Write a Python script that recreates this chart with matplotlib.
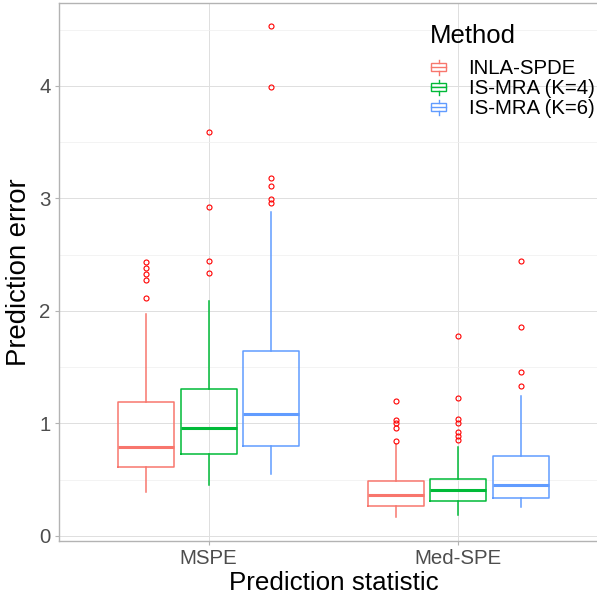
import matplotlib
matplotlib.use("Agg")
import matplotlib.pyplot as plt
from matplotlib.legend_handler import HandlerBase
from matplotlib.patches import Rectangle
from matplotlib.lines import Line2D
import numpy as np

plt.rcParams['font.family'] = ['Liberation Sans', 'DejaVu Sans']

# boxplot summaries
stats_names = ['MSPE', 'Med-SPE']
methods = ['INLA-SPDE', 'IS-MRA (K=4)', 'IS-MRA (K=6)']
colors = ['#F8766D', '#00BA38', '#619CFF']

# [statistic][method]
whislo = [[0.39, 0.45, 0.55], [0.17, 0.19, 0.26]]
q1 = [[0.61, 0.73, 0.80], [0.27, 0.31, 0.34]]
med = [[0.79, 0.96, 1.08], [0.36, 0.41, 0.45]]
q3 = [[1.19, 1.31, 1.64], [0.49, 0.51, 0.71]]
whishi = [[1.97, 2.09, 2.88], [0.82, 0.79, 1.24]]
fliers = [
    [[2.43, 2.38, 2.33, 2.27, 2.11],
     [3.59, 2.92, 2.44, 2.34],
     [4.53, 3.99, 3.18, 3.11, 2.99, 2.96]],
    [[1.20, 1.03, 1.00, 0.96, 0.84],
     [1.78, 1.23, 1.04, 1.00, 0.92, 0.89, 0.85],
     [2.44, 1.86, 1.46, 1.33]],
]


class BoxKey(HandlerBase):
    # small boxplot glyph like ggplot's legend key
    def create_artists(self, legend, orig_handle, xdescent, ydescent,
                       width, height, fontsize, trans):
        c = orig_handle.get_color()
        cx = width / 2 - xdescent
        cy = height / 2 - ydescent
        bw, bh = width * 0.9, height * 0.55
        box = Rectangle((cx - bw / 2, cy - bh / 2), bw, bh, fill=False,
                        edgecolor=c, lw=1.0, transform=trans)
        medl = Line2D([cx - bw / 2, cx + bw / 2], [cy, cy], color=c, lw=1.0,
                      transform=trans)
        wt = Line2D([cx, cx], [cy + bh / 2, cy + height * 0.5], color=c, lw=1.0,
                    transform=trans)
        wb = Line2D([cx, cx], [cy - bh / 2, cy - height * 0.5], color=c, lw=1.0,
                    transform=trans)
        return [box, medl, wt, wb]


fig = plt.figure(figsize=(5.97, 5.96), dpi=100)
ax = fig.add_axes([59 / 597, 55 / 596, 549 / 597, 538.5 / 596])

grey70 = '#B3B3B3'
for s in range(len(stats_names)):
    for m in range(len(methods)):
        st = dict(whislo=whislo[s][m], q1=q1[s][m], med=med[s][m],
                  q3=q3[s][m], whishi=whishi[s][m], fliers=fliers[s][m])
        pos = s + 1 + (m - 1) * 0.25
        c = colors[m]
        ax.bxp([st], positions=[pos], widths=0.225, showcaps=False,
               boxprops=dict(color=c, lw=1.1),
               whiskerprops=dict(color=c, lw=1.1),
               medianprops=dict(color=c, lw=2.2),
               flierprops=dict(marker='o', markersize=3.6, markerfacecolor='none',
                               markeredgecolor='red', markeredgewidth=0.8),
               manage_ticks=False, zorder=3)

ax.set_xlim(0.4, 2.6)
ax.set_ylim(-0.045, 4.74)
ax.set_xticks([1, 2])
ax.set_xticklabels(stats_names)
ax.set_yticks([0, 1, 2, 3, 4])
ax.set_yticks([0.5, 1.5, 2.5, 3.5, 4.5], minor=True)
ax.grid(which='major', color='#DEDEDE', lw=0.7, zorder=0)
ax.grid(which='minor', axis='y', color='#EFEFEF', lw=0.5, zorder=0)
ax.set_axisbelow(True)
for sp in ax.spines.values():
    sp.set_color(grey70)
    sp.set_linewidth(1.0)
ax.tick_params(which='major', length=3, color=grey70, width=0.8,
               labelsize=14.7, labelcolor='#4D4D4D', pad=3)
ax.tick_params(which='minor', length=0)

ax.set_xlabel('Prediction statistic', fontsize=18.7, labelpad=2)
ax.set_ylabel('Prediction error', fontsize=19.8, labelpad=5)

# legend
handles = [Line2D([], [], color=c) for c in colors]
leg = ax.legend(handles, methods, title='Method', loc='upper left',
                bbox_to_anchor=(0.642, 0.994), frameon=False, fontsize=14.7,
                title_fontsize=18.5, handlelength=0.85, handleheight=0.75,
                handletextpad=1.05, labelspacing=0.05, alignment='left',
                handler_map={Line2D: BoxKey()})
leg._legend_box.sep = 8

fig.savefig('out.png', dpi=100)
